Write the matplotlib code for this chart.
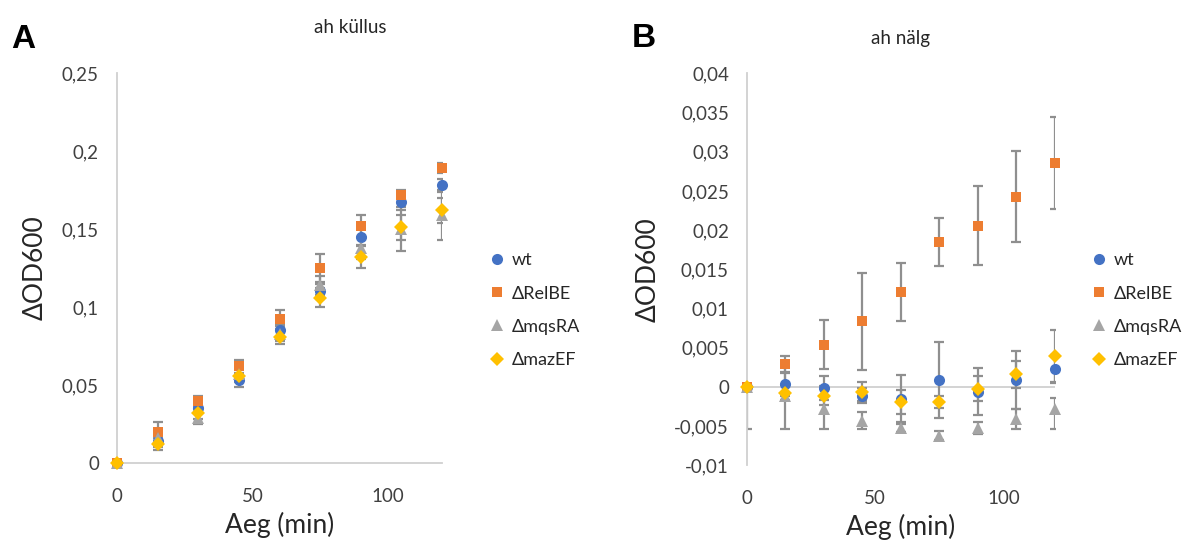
import matplotlib
matplotlib.use('Agg')
import matplotlib.pyplot as plt
from matplotlib.ticker import FuncFormatter, MultipleLocator

# ---------------- data ----------------
time_min = [0, 15, 30, 45, 60, 75, 90, 105, 120]
series_names = ['wt', 'ΔRelBE', 'ΔmqsRA', 'ΔmazEF']

# Panel A: ah küllus
a_wt = [0, 0.014, 0.035, 0.053, 0.085, 0.110, 0.145, 0.167, 0.178]
a_relbe = [0, 0.020, 0.040, 0.062, 0.092, 0.125, 0.152, 0.172, 0.189]
a_mqsra = [0, 0.016, 0.029, 0.057, 0.083, 0.114, 0.138, 0.150, 0.159]
a_mazef = [0, 0.012, 0.032, 0.056, 0.081, 0.106, 0.132, 0.151, 0.162]
a_wt_err = [0, 0.004, 0.003, 0.004, 0.004, 0.005, 0.005, 0.005, 0.004]
a_relbe_err = [0, 0.006, 0.003, 0.004, 0.006, 0.009, 0.007, 0.003, 0.003]
a_mqsra_err = [0, 0.005, 0.004, 0.004, 0.005, 0.006, 0.007, 0.014, 0.016]
a_mazef_err = [0, 0.004, 0.004, 0.004, 0.005, 0.006, 0.007, 0.008, 0.008]

# Panel B: ah nälg
b_wt = [0, 0.0004, -0.0001, -0.0011, -0.0015, 0.0009, -0.0006, 0.0009, 0.0023]
b_relbe = [0, 0.0029, 0.0054, 0.0084, 0.0121, 0.0185, 0.0206, 0.0243, 0.0286]
b_mqsra = [0, -0.0012, -0.0028, -0.0043, -0.0052, -0.0062, -0.0052, -0.0041, -0.0028]
b_mazef = [0, -0.0007, -0.0011, -0.0006, -0.0019, -0.0019, -0.0002, 0.0016, 0.0040]
b_wt_err = [0, 0.0015, 0.0015, 0.0010, 0.0030, 0.0049, 0.0030, 0.0037, 0.0018]
b_relbe_err = [0, 0.0011, 0.0031, 0.0062, 0.0037, 0.0031, 0.0050, 0.0058, 0.0059]
b_mqsra_err_lo = [0.0054, 0.0042, 0.0026, 0.0011, 0.0005, 0.0006, 0.0008, 0.0013, 0.0026]
b_mqsra_err_hi = [0, 0.0042, 0.0026, 0.0011, 0.0005, 0.0006, 0.0008, 0.0013, 0.0014]
b_mazef_err = [0, 0.0010, 0.0012, 0.0012, 0.0015, 0.0008, 0.0016, 0.0017, 0.0033]

colors = ['#4472C4', '#ED7D31', '#A5A5A5', '#FFC000']
markers = ['o', 's', '^', 'D']
msizes = [8, 7.5, 8.5, 7]

plt.rcParams['font.family'] = ['Lato', 'DejaVu Sans']

fig = plt.figure(figsize=(11.98, 5.45), dpi=100)
axA = fig.add_axes([0.0977, 0.1505, 0.2713, 0.7155])
axB = fig.add_axes([0.6235, 0.146, 0.2571, 0.7193])


def fmt(v, pos):
    v = round(v, 4)
    if v == 0:
        return '0'
    return f'{v:g}'.replace('.', ',')


def draw(ax, vals, errs, ymin, ymax, ystep, title, title_x, title_y, ax_zero_line):
    for v, e in zip(vals, errs):
        ax.errorbar(time_min, v, yerr=e, fmt='none', ecolor='#8f8f8f',
                    elinewidth=1.6, capsize=3.5, capthick=1.6, zorder=2)
    for i, v in enumerate(vals):
        ax.plot(time_min, v, linestyle='none', marker=markers[i],
                markersize=msizes[i], color=colors[i], markeredgewidth=0,
                label=series_names[i], zorder=3 + i, clip_on=False)
    ax.set_xlim(0, 120)
    ax.set_ylim(ymin, ymax)
    ax.xaxis.set_major_locator(MultipleLocator(50))
    ax.yaxis.set_major_locator(MultipleLocator(ystep))
    ax.yaxis.set_major_formatter(FuncFormatter(fmt))
    for s in ['top', 'right']:
        ax.spines[s].set_visible(False)
    ax.spines['left'].set_color('#d0d0d0')
    ax.spines['left'].set_linewidth(1.3)
    if ax_zero_line:
        ax.spines['bottom'].set_visible(False)
        ax.axhline(0, color='#d0d0d0', lw=1.3, zorder=1)
    else:
        ax.spines['bottom'].set_color('#d0d0d0')
        ax.spines['bottom'].set_linewidth(1.3)
    ax.tick_params(axis='both', length=0, labelsize=13.5, colors='#404040')
    ax.tick_params(axis='y', pad=13)
    ax.tick_params(axis='x', pad=18)
    ax.set_xlabel('Aeg (min)', fontsize=19, color='#262626', labelpad=5)
    ax.set_ylabel('ΔOD600', fontsize=19, color='#262626', labelpad=10)
    ax.text(title_x, title_y, title, fontsize=13.5, color='#262626',
            ha='center', va='center', transform=ax.transAxes)


draw(axA, [a_wt, a_relbe, a_mqsra, a_mazef],
     [a_wt_err, a_relbe_err, a_mqsra_err, a_mazef_err],
     0, 0.25, 0.05, 'ah küllus', 0.717, 1.118, False)
draw(axB, [b_wt, b_relbe, b_mqsra, b_mazef],
     [b_wt_err, b_relbe_err, [b_mqsra_err_lo, b_mqsra_err_hi], b_mazef_err],
     -0.01, 0.04, 0.005, 'ah nälg', 0.5, 1.09, True)

for ax, xleg in [(axA, 0.408), (axB, 0.9105)]:
    ax.legend(loc='center left', bbox_to_anchor=(xleg, 0.431),
              bbox_transform=fig.transFigure, frameon=False, fontsize=13,
              handlelength=0.9, handletextpad=0.35, labelspacing=0.95,
              borderpad=0, borderaxespad=0, labelcolor='#262626')

fig.text(0.009, 0.928, 'A', fontsize=24, fontweight='bold',
         family='Liberation Sans', va='center', ha='left')
fig.text(0.527, 0.93, 'B', fontsize=24, fontweight='bold',
         family='Liberation Sans', va='center', ha='left')

fig.savefig('out.png', dpi=100)
